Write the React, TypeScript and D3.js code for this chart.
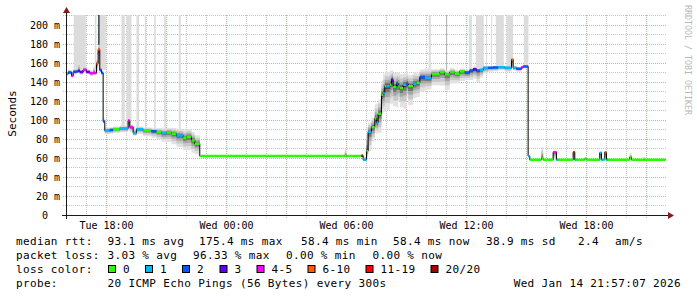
import React from "react";
import * as d3 from "d3";

// ---------- data ----------
const startDate = new Date(2026, 0, 13, 15, 57, 7);
const endDate = new Date(2026, 0, 14, 21, 57, 7);
const baseDate = new Date(2026, 0, 13, 16, 0, 0); // minutes below are counted from here

const times = [
  -5, 5, 15, 20, 30, 35, 40, 50, 60, 70, 80, 85, 90, 95, 100, 105, 110, 115,
  130, 140, 160, 185, 190, 200, 210, 230, 255, 270, 285, 300, 315, 330, 350, 360, 375, 385,
  400, 835, 840, 885, 890,
  900, 905, 915, 925, 930, 935, 945, 950, 955, 960, 970, 975, 980, 990, 995, 1000, 1010, 1020, 1025, 1040, 1050, 1060, 1075,
  1095, 1120, 1135, 1150, 1165, 1180, 1195, 1210, 1220, 1230, 1240, 1250, 1265, 1280, 1295, 1315, 1335, 1340, 1350, 1365, 1370,
  1385, 1390, 1425, 1430, 1460, 1470, 1475, 1520, 1525, 1530, 1555, 1560, 1600, 1605, 1610, 1615, 1620, 1625, 1690, 1695, 1730, 1735,
];
const medianRtt = [
  149, 150.5, 147, 151.2, 151.6, 152, 151, 153.3, 151, 149.8, 150, 150, 160, 174.7, 153, 150, 99, 89.5,
  90, 90.8, 91.6, 100, 93, 86.7, 90.8, 89.5, 88.8, 88, 86.7, 87.4, 86, 84.2, 81.8, 83, 79, 75.5,
  62.5, 62.5, 62.5, 63, 58.6,
  68, 88, 93, 102, 98, 107, 127, 129, 136, 136, 137.5, 143, 135, 138.6, 135.8, 134, 137.5, 138.6, 136, 138.6, 139.7, 145.6, 144.6,
  149, 150.9, 148.4, 150.9, 149.3, 151.6, 150.5, 152.6, 154, 152.6, 153.3, 155.4, 155.4, 155.8, 156, 155.4, 164.2, 155.4, 154.4, 156, 156.8,
  62.4, 58.6, 60.3, 58.6, 66.6, 58.6, 58.6, 66.6, 58.6, 58.6, 59.6, 58.6, 66, 58.6, 58.6, 66.6, 58.6, 58.6, 61.4, 58.6, 58.6, 58.6,
];
const lossClass = [
  1, 2, 4, 2, 2, 3, 3, 4, 3, 4, 4, 4, 5, 5, 2, 2, 2, 1,
  2, 0, 1, 4, 4, 1, 1, 0, 2, 0, 1, 0, 0, 1, 0, 0, 0, 0,
  0, 0, 0, 7, 1,
  0, 1, 0, 0, 1, 0, 0, 1, 0, 1, 0, 3, 0, 2, 0, 0, 1, 2, 0, 1, 0, 2, 1,
  0, 0, 0, 0, 0, 0, 2, 2, 3, 2, 1, 1, 2, 2, 1, 1, 5, 1, 2, 4, 2,
  1, 0, 0, 0, 4, 1, 0, 6, 1, 0, 0, 0, 1, 1, 0, 5, 1, 0, 0, 0, 0, 0,
];
const smokeLo = [
  2, 2, 2, 3, 2, 2, 3, 3, 2, 3, 2, 2, 8, 15, 2, 2, 2, 4,
  4, 4, 4, 8, 5, 3, 5, 6, 7, 8, 9, 10, 11, 12, 13, 14, 13, 11,
  0.3, 0.3, 0.3, 0.3, 0.3,
  8, 20, 15, 15, 12, 20, 20, 20, 25, 25, 20, 25, 20, 25, 15, 20, 25, 15, 20, 15, 15, 15, 12,
  12, 14, 16, 12, 10, 10, 8, 10, 10, 12, 8, 6, 4, 4, 3, 4, 9, 3, 3, 2, 2,
  1, 0.3, 1, 0.3, 8, 0.3, 0.3, 8, 0.3, 0.3, 0.3, 0.3, 8, 0.3, 0.3, 8, 0.3, 0.3, 2, 0.3, 0.3, 0.3,
];
const smokeHi = [
  3, 3, 4, 3, 4, 9, 3, 3, 3, 3, 7, 2, 4, 5, 5, 3, 3, 3,
  3, 3, 3, 2, 3, 5, 3, 3, 3, 4, 5, 5, 6, 7, 8, 8, 9, 9,
  0.6, 7, 0.6, 0.6, 3,
  25, 10, 10, 15, 20, 15, 15, 20, 15, 15, 15, 10, 15, 12, 15, 15, 12, 12, 12, 12, 10, 8, 10,
  5, 4, 4, 4, 4, 3, 3, 3, 3, 2, 2, 2, 2, 2, 2, 2, 1, 2, 2, 2, 2,
  1, 0.5, 12, 0.5, 1, 0.5, 0.5, 1, 0.5, 0.5, 2, 0.5, 1, 0.5, 0.5, 1, 0.5, 0.5, 4, 0.5, 3, 0.5,
];

// slow pings above the graph top (minutes from baseDate)
const outlierStart = [22, 85, 95, 100, 165, 180, 210, 235, 263, 293, 337, 1087, 1139, 1208, 1228, 1259, 1274, 1288, 1320, 1372];
const outlierEnd = [58, 90, 100, 118, 175, 195, 218, 239, 268, 298, 343, 1093, 1142, 1216, 1252, 1262, 1277, 1312, 1340, 1386];
const outlierShade = [0, 0, 2, 0, 0, 0, 0, 0, 0, 0, 0, 0, 1, 0, 0, 0, 0, 0, 0, 0];

const yGridValues = d3.range(10, 211, 10);
const yTickValues = [0, 20, 40, 60, 80, 100, 120, 140, 160, 180, 200];
const yTickLabels = ["0  ", "20 m", "40 m", "60 m", "80 m", "100 m", "120 m", "140 m", "160 m", "180 m", "200 m"];

const lossColors = ["#26ff00", "#00b8ff", "#0059ff", "#5e00ff", "#ff00ff", "#ff5e00", "#ff0000", "#a10000"];
const lossLabels = ["0", "1", "2", "3", "4-5", "6-10", "11-19", "20/20"];
const rttLegend = ["median rtt:", "93.1 ms avg", "175.4 ms max", "58.4 ms min", "58.4 ms now", "38.9 ms sd", "2.4", "am/s"];
const lossLegend = ["packet loss:", "3.03 % avg", "96.33 % max", "0.00 % min", "0.00 % now"];
const probeLegend = ["probe:", "20 ICMP Echo Pings (56 Bytes) every 300s"];
const stampText = "Wed Jan 14 21:57:07 2026";

// ---------- layout ----------
const W = 697, H = 297;
const PL = 66, PR = 666, PT = 15, PB = 215;
const rttX = [16, 107.5, 199, 301, 393, 486, 578, 615];
const lossX = [16, 107.5, 193, 286, 372.5];
const boxX = [108, 145, 182, 219.5, 256.5, 307.5, 365.5, 430.5];
const smokeFracs = [1, 0.7, 0.45, 0.25, 0.1];
const smokeFills = ["#e2e2e2", "#c8c8c8", "#a6a6a6", "#787878", "#3c3c3c"];
const outlierFills = ["#dcdcdc", "#b0b0b0", "#3a3a3a"];
const FONT = "DejaVu Sans Mono";

export default function App() {
  const x = d3.scaleTime().domain([startDate, endDate]).range([65.5, 665.5]);
  const y = d3.scaleLinear().domain([0, 210.5]).range([215.5, 15.5]);
  const toDate = (m: number) => new Date(baseDate.getTime() + m * 60000);

  type P = { t: Date; m: number; c: number; lo: number; hi: number };
  const pts: P[] = times.map((t, i) => ({ t: toDate(t), m: medianRtt[i], c: lossClass[i], lo: smokeLo[i], hi: smokeHi[i] }));
  const last = pts[pts.length - 1];
  const ptsExt = [...pts, { ...last, t: endDate }];

  const medianAt = (m: number) => {
    const i = Math.max(0, d3.bisectRight(times, m) - 1);
    return medianRtt[i];
  };

  const snap = (v: number) => Math.floor(v) + 0.5;

  const hours = d3.timeHour.range(d3.timeHour.ceil(startDate), endDate).filter((h) => x(h) > 67);
  const labelHours = d3.timeHour.every(6)!.range(startDate, endDate);
  const fmt = d3.timeFormat("%a %H:%M");

  const medianLine = d3
    .line<P>()
    .x((d) => x(d.t))
    .y((d) => y(d.m))
    .curve(d3.curveStepAfter);

  const bands = smokeFracs.map((f) =>
    d3
      .area<P>()
      .x((d) => x(d.t))
      .y0((d) => y(d.m - d.lo * f))
      .y1((d) => y(d.m + d.hi * f))
      .curve(d3.curveStepAfter)(ptsExt)
  );

  const minorColor = "#c4c4c4";
  const majorColor = "#eba0a0";

  return (
    <svg
      width={W}
      height={H}
      style={{ position: "absolute", left: 0, top: 0, background: "#fff", fontFamily: FONT }}
    >
      <defs>
        <clipPath id="plotclip">
          <rect x={PL} y={PT} width={PR - PL} height={PB - PT + 0.5} />
        </clipPath>
      </defs>
      <rect x={0} y={0} width={W} height={H} fill="#fff" />

      {/* horizontal grid */}
      {yGridValues.map((v) => {
        const py = snap(y(v));
        const major = v % 20 === 0;
        return (
          <line
            key={"h" + v}
            x1={63}
            x2={PR}
            y1={py}
            y2={py}
            stroke={major ? majorColor : minorColor}
            strokeWidth={1}
            strokeDasharray="1,1"
          />
        );
      })}
      {/* vertical grid */}
      {hours.map((h) => {
        const px = snap(x(h));
        const major = h.getHours() % 3 === 0;
        return (
          <line
            key={"v" + h.getTime()}
            x1={px}
            x2={px}
            y1={PT}
            y2={218}
            stroke={major ? majorColor : minorColor}
            strokeWidth={1}
            strokeDasharray="1,1"
          />
        );
      })}

      <g clipPath="url(#plotclip)">
        {/* slow pings reaching above the top */}
        {outlierStart.map((s, i) => (
          <rect
            key={"o" + i}
            x={x(toDate(s))}
            y={PT}
            width={x(toDate(outlierEnd[i])) - x(toDate(s))}
            height={y(medianAt(s)) - PT}
            fill={outlierFills[outlierShade[i]]}
          />
        ))}
        {/* smoke */}
        {bands.map((d, i) => (
          <path key={"b" + i} d={d || ""} fill={smokeFills[i]} />
        ))}
        {/* median */}
        <path d={medianLine(ptsExt) || ""} fill="none" stroke="#000" strokeWidth={1} />
        {pts.map((p, i) => {
          const x1 = x(p.t);
          const x2 = x(ptsExt[i + 1].t);
          const py = y(p.m);
          return (
            <line key={"m" + i} x1={x1} x2={x2} y1={py} y2={py} stroke={lossColors[p.c]} strokeWidth={2.5} />
          );
        })}
      </g>

      {/* axes */}
      <line x1={62} x2={669} y1={215.5} y2={215.5} stroke="#1a1a1a" strokeWidth={1} />
      <line x1={66.5} x2={66.5} y1={219} y2={12} stroke="#1a1a1a" strokeWidth={1} />
      <path d="M668,212 L674,215.5 L668,219 Z" fill="#8b1a1a" />
      <path d="M63,13 L66.5,7 L70,13 Z" fill="#8b1a1a" />

      {/* y tick labels */}
      {yTickValues.map((v, i) => (
        <text
          key={"yl" + v}
          x={60}
          y={snap(y(v)) + 3.5}
          textAnchor="end"
          fontSize={10}
          fill="#000"
          style={{ whiteSpace: "pre" }}
        >
          {yTickLabels[i]}
        </text>
      ))}
      {/* x tick labels */}
      {labelHours.map((h) => (
        <text key={"xl" + h.getTime()} x={snap(x(h))} y={228.5} textAnchor="middle" fontSize={10} fill="#000">
          {fmt(h)}
        </text>
      ))}

      {/* axis title */}
      <text transform="translate(15.5,113.5) rotate(-90)" textAnchor="middle" fontSize={11} fill="#000">
        Seconds
      </text>
      {/* watermark */}
      <text transform="translate(685,5) rotate(90)" fontSize={8.3} fill="#b8b8b8">
        RRDTOOL / TOBI OETIKER
      </text>

      {/* legend */}
      <g fontSize={11} fill="#000" style={{ letterSpacing: "0.35px", whiteSpace: "pre" }}>
        {rttLegend.map((s, i) => (
          <text key={"r" + i} x={rttX[i]} y={245}>
            {s}
          </text>
        ))}
        {lossLegend.map((s, i) => (
          <text key={"l" + i} x={lossX[i]} y={259}>
            {s}
          </text>
        ))}
        <text x={16} y={273}>
          loss color:
        </text>
        {lossLabels.map((s, i) => (
          <g key={"c" + i}>
            <rect x={boxX[i] + 0.5} y={265.5} width={7} height={7} fill={lossColors[i]} stroke="#000" strokeWidth={1} />
            <text x={boxX[i] + 15} y={273}>
              {s}
            </text>
          </g>
        ))}
        <text x={16} y={287}>
          {probeLegend[0]}
        </text>
        <text x={107.5} y={287}>
          {probeLegend[1]}
        </text>
        <text x={681} y={287} textAnchor="end">
          {stampText}
        </text>
      </g>
    </svg>
  );
}
